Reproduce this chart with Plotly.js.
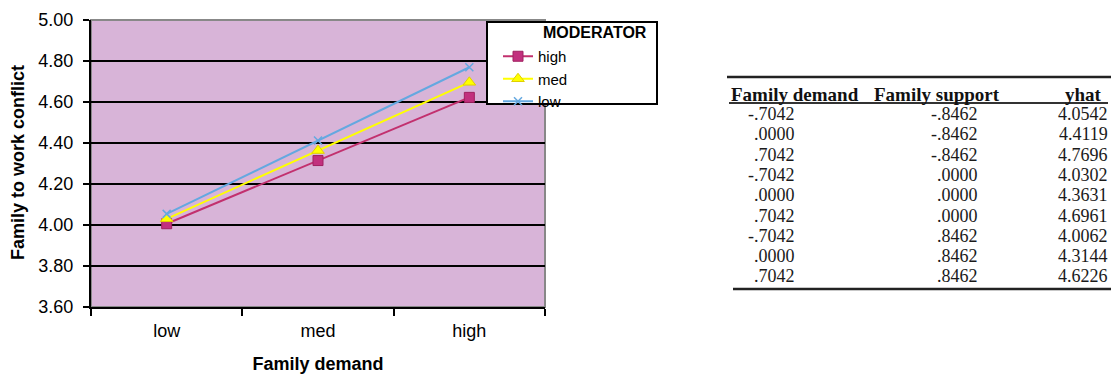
<!DOCTYPE html>
<html>
<head>
<meta charset="utf-8">
<script src="https://cdn.plot.ly/plotly-3.0.1.min.js"></script>
<style>html,body{margin:0;padding:0;background:#fff;}#chart{width:1111px;height:381px;}</style>
</head>
<body>
<div id="chart"></div>
<script>
// ---- data ----
var categories = ['low', 'med', 'high'];
var seriesNames = ['high', 'med', 'low'];
var legendTitle = 'MODERATOR';
var yHigh = [4.0062, 4.3144, 4.6226];
var yMed  = [4.0302, 4.3631, 4.6961];
var yLow  = [4.0542, 4.4119, 4.7696];
var yTickVals = [3.6, 3.8, 4.0, 4.2, 4.4, 4.6, 4.8, 5.0];

var tableHeaders = ['Family demand', 'Family support', 'yhat'];
var colDemand  = ['-.7042', '.0000', '.7042', '-.7042', '.0000', '.7042', '-.7042', '.0000', '.7042'];
var colSupport = ['-.8462', '-.8462', '-.8462', '.0000', '.0000', '.0000', '.8462', '.8462', '.8462'];
var colYhat    = ['4.0542', '4.4119', '4.7696', '4.0302', '4.3631', '4.6961', '4.0062', '4.3144', '4.6226'];

// ---- layout helpers (pixel -> paper) ----
var W = 1111, H = 381, L = 91, R = 545, T = 20, B = 307;
function px(x) { return (x - L) / (R - L); }
function py(y) { return (B - y) / (B - T); }

var traces = [
  { x: categories, y: yHigh, name: seriesNames[0], type: 'scatter', mode: 'lines+markers',
    line: { color: '#c2306e', width: 2 },
    marker: { symbol: 'square', size: 10, color: '#c2307e', line: { color: '#a02060', width: 1 } } },
  { x: categories, y: yMed, name: seriesNames[1], type: 'scatter', mode: 'lines+markers',
    line: { color: '#ffff00', width: 2 },
    marker: { symbol: 'triangle-up', size: 11, color: '#ffff00', line: { color: '#e0d000', width: 1 } } },
  { x: categories, y: yLow, name: seriesNames[2], type: 'scatter', mode: 'lines+markers',
    line: { color: '#64a8e0', width: 2 },
    marker: { symbol: 'x-thin-open', size: 8, color: '#64a8e0', line: { color: '#64a8e0', width: 1.5 } } }
];

var annotations = [];
var shapes = [];
var serif = 'Liberation Serif, Times New Roman, serif';

// y-axis title
annotations.push({ xref: 'paper', yref: 'paper', x: px(18), y: py(163), xanchor: 'center', yanchor: 'middle',
  text: '<b>Family to work conflict</b>', textangle: -90, showarrow: false,
  font: { family: 'Liberation Sans, Arial', size: 18, color: '#000' } });

// legend box + title
shapes.push({ type: 'rect', xref: 'paper', yref: 'paper', x0: px(487), x1: px(657), y0: py(104), y1: py(22),
  fillcolor: '#ffffff', line: { color: '#000', width: 2 }, layer: 'above' });
annotations.push({ xref: 'paper', yref: 'paper', x: px(541), y: py(33), xanchor: 'left', yanchor: 'middle',
  text: '<b>' + legendTitle + '</b>', showarrow: false, font: { family: 'Liberation Sans, Arial', size: 16, color: '#000' } });

// table header
var headerY = 94;
var hf = { family: serif, size: 19, color: '#111' };
annotations.push({ xref: 'paper', yref: 'paper', x: px(729), y: py(headerY), xanchor: 'left', yanchor: 'middle', text: '<b>' + tableHeaders[0] + '</b>', showarrow: false, font: hf });
annotations.push({ xref: 'paper', yref: 'paper', x: px(872), y: py(headerY), xanchor: 'left', yanchor: 'middle', text: '<b>' + tableHeaders[1] + '</b>', showarrow: false, font: hf });
annotations.push({ xref: 'paper', yref: 'paper', x: px(1104), y: py(headerY), xanchor: 'right', yanchor: 'middle', text: '<b>' + tableHeaders[2] + '</b>', showarrow: false, font: hf });

// table rows
for (var i = 0; i < colDemand.length; i++) {
  var yy = py(114 + 20.3 * i);
  var f = { family: serif, size: 18, color: '#1a1a1a' };
  annotations.push({ xref: 'paper', yref: 'paper', x: px(797), y: yy, xanchor: 'right', yanchor: 'middle', text: colDemand[i], showarrow: false, font: f });
  annotations.push({ xref: 'paper', yref: 'paper', x: px(980), y: yy, xanchor: 'right', yanchor: 'middle', text: colSupport[i], showarrow: false, font: f });
  annotations.push({ xref: 'paper', yref: 'paper', x: px(1110), y: yy, xanchor: 'right', yanchor: 'middle', text: colYhat[i], showarrow: false, font: f });
}

// table rules
shapes.push({ type: 'line', xref: 'paper', yref: 'paper', x0: px(727), x1: px(1111), y0: py(77), y1: py(77), line: { color: '#222', width: 2.5 } });
shapes.push({ type: 'line', xref: 'paper', yref: 'paper', x0: px(729), x1: px(1108), y0: py(103), y1: py(103), line: { color: '#333', width: 2 } });
shapes.push({ type: 'line', xref: 'paper', yref: 'paper', x0: px(733), x1: px(1111), y0: py(289), y1: py(289), line: { color: '#222', width: 2.5 } });

// plot frame (grey right edge)
shapes.push({ type: 'rect', xref: 'paper', yref: 'paper', x0: 0, x1: 1, y0: 0, y1: 1, line: { color: '#888', width: 2 }, layer: 'below' });

var layout = {
  width: W, height: H,
  margin: { l: L, r: W - R, t: T, b: H - B },
  paper_bgcolor: '#ffffff',
  plot_bgcolor: '#d8b4d8',
  font: { family: 'Liberation Sans, Arial', color: '#000' },
  showlegend: true,
  legend: {
    x: px(498), y: py(40), xanchor: 'left', yanchor: 'top',
    bgcolor: 'rgba(0,0,0,0)', borderwidth: 0,
    font: { size: 15, color: '#000' },
    tracegroupgap: 0, itemwidth: 30
  },
  xaxis: {
    type: 'category', range: [-0.5, 2.5],
    tickson: 'boundaries', ticks: 'outside', ticklen: 7, tickwidth: 2, tickcolor: '#000',
    showline: true, linecolor: '#000', linewidth: 2,
    showgrid: false, zeroline: false, ticklabelstandoff: 6,
    tickfont: { size: 18, color: '#000' },
    title: { text: '<b>Family demand</b>', font: { size: 18, color: '#000' }, standoff: 18 }
  },
  yaxis: {
    range: [3.6, 5.0], tickvals: yTickVals, tickformat: '.2f',
    ticks: 'outside', ticklen: 6, tickwidth: 2, tickcolor: '#000',
    showline: true, linecolor: '#000', linewidth: 2, ticklabelstandoff: 6,
    showgrid: true, gridcolor: '#000', gridwidth: 2, zeroline: false,
    tickfont: { size: 18, color: '#000' }
  },
  annotations: annotations,
  shapes: shapes
};

Plotly.newPlot('chart', traces, layout, { displayModeBar: false, staticPlot: true });
</script>
</body>
</html>
